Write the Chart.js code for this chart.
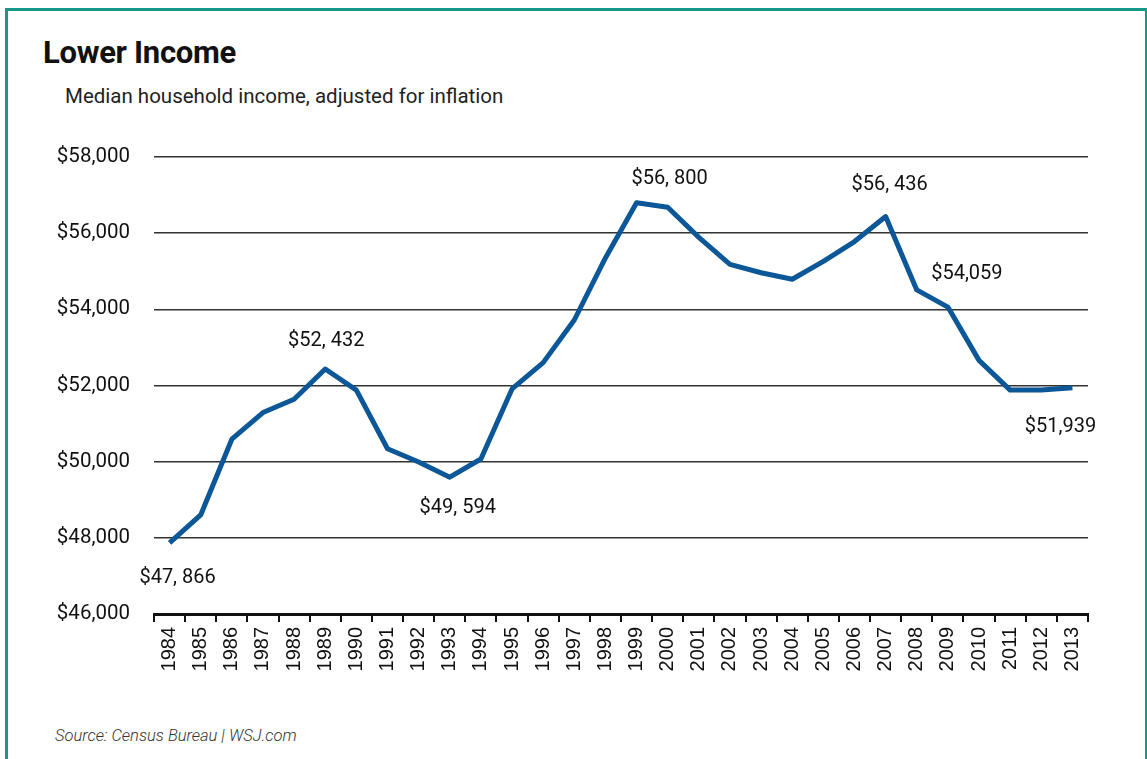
<!DOCTYPE html>
<html>
<head>
<meta charset="utf-8">
<script src="https://cdn.jsdelivr.net/npm/chart.js@4.4.1/dist/chart.umd.min.js"></script>
<style>
  body { margin: 0; background: #fff; width: 1147px; height: 759px; overflow: hidden; position: relative; font-family: Roboto, sans-serif; }
  #frame { position: absolute; left: 5px; top: 8px; width: 1137px; height: 800px; border: 3px solid #17998a; border-bottom: none; }
  #title { position: absolute; left: 43px; top: 34px; font-size: 31px; font-weight: 700; color: #111; letter-spacing: -0.3px; }
  #subtitle { position: absolute; left: 65px; top: 84px; font-size: 20.5px; color: #222; }
  #source { position: absolute; left: 55px; top: 726px; font-size: 16.5px; font-style: italic; font-weight: 300; color: #333; }
  #wrap { position: absolute; left: 0; top: 0; width: 1147px; height: 759px; }
</style>
</head>
<body>
<div id="frame"></div>
<div id="title">Lower Income</div>
<div id="subtitle">Median household income, adjusted for inflation</div>
<div id="source">Source: Census Bureau | WSJ.com</div>
<div id="wrap"><canvas id="chart"></canvas></div>
<script>
// years on the x axis
const years = [
  "1984", "1985", "1986", "1987", "1988", "1989", "1990", "1991", "1992", "1993",
  "1994", "1995", "1996", "1997", "1998", "1999", "2000", "2001", "2002", "2003",
  "2004", "2005", "2006", "2007", "2008", "2009", "2010", "2011", "2012", "2013"
];

// median household income
const income = [
  47866, 48600, 50590, 51290, 51640, 52432, 51880, 50340, 49990, 49594,
  50070, 51910, 52600, 53720, 55350, 56800, 56680, 55890, 55180, 54960,
  54790, 55260, 55780, 56436, 54510, 54059, 52660, 51880, 51880, 51939
];

// y axis
const yMin = 46000;
const yMax = 58000;
const yStep = 2000;

// call-out labels
const calloutYears = ["1984", "1989", "1993", "1999", "2007", "2009", "2013"];
const calloutTexts = ["$47, 866", "$52, 432", "$49, 594", "$56, 800", "$56, 436", "$54,059", "$51,939"];

// where each call-out sits relative to its point
const calloutOffsets = [[8, 35], [1, -28], [8, 31], [33, -24], [4, -32], [19, -33], [-12, 39]];

const calloutPlugin = {
  id: "callouts",
  afterDatasetsDraw: chart => {
    const ctx = chart.ctx;
    const meta = chart.getDatasetMeta(0);
    ctx.save();
    ctx.font = "20px Roboto";
    ctx.fillStyle = "#111";
    ctx.textAlign = "center";
    ctx.textBaseline = "middle";
    calloutYears.forEach((yr, k) => {
      const pt = meta.data[years.indexOf(yr)];
      const off = calloutOffsets[k];
      ctx.fillText(calloutTexts[k], pt.x + off[0], pt.y + off[1]);
    });
    ctx.restore();
  }
};

new Chart(document.getElementById("chart"), {
  type: "line",
  data: {
    labels: years,
    datasets: [{
      data: income,
      borderColor: "#0b5797",
      borderWidth: 5,
      borderJoinStyle: "round",
      tension: 0,
      pointRadius: 0
    }]
  },
  options: {
    responsive: true,
    maintainAspectRatio: false,
    animation: false,
    layout: { padding: { left: 0, right: 59, top: 157, bottom: 65 } },
    plugins: {
      legend: { display: false },
      tooltip: { enabled: false }
    },
    scales: {
      x: {
        offset: true,
        afterFit: s => { s.height = 80; },
        border: { display: true, color: "#111", width: 3 },
        grid: {
          offset: true,
          drawOnChartArea: false,
          drawTicks: true,
          tickLength: 8,
          color: "#111",
          lineWidth: 2
        },
        ticks: {
          autoSkip: false,
          minRotation: 90,
          maxRotation: 90,
          padding: 5,
          color: "#111",
          font: { family: "Liberation Sans", size: 20 }
        }
      },
      y: {
        min: yMin,
        max: yMax,
        afterFit: s => { s.width = 154; },
        border: { display: false },
        grid: { color: "#333", lineWidth: 1.5, drawTicks: false },
        ticks: {
          stepSize: yStep,
          padding: 24,
          color: "#111",
          font: { family: "Roboto", size: 20.5 },
          callback: v => "$" + v.toLocaleString("en-US")
        }
      }
    }
  },
  plugins: [calloutPlugin]
});
</script>
</body>
</html>
